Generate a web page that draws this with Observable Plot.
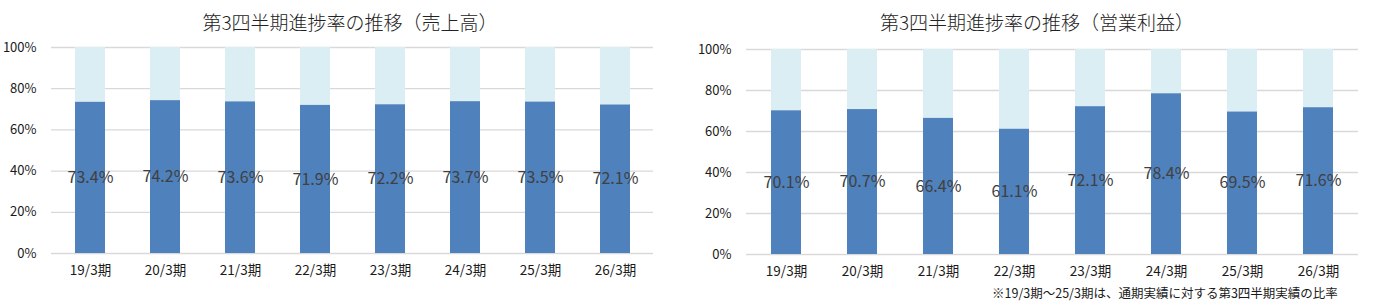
<!DOCTYPE html>
<html><head><meta charset="utf-8">
<script src="https://cdn.jsdelivr.net/npm/d3@7"></script>
<script src="https://cdn.jsdelivr.net/npm/@observablehq/plot@0.6"></script>
<style>
body{margin:0;background:#fff;}
#wrap{position:relative;width:1374px;height:307px;overflow:hidden;font-family:"Noto Sans CJK JP",sans-serif;}
.panel{position:absolute;top:0;}
.title{position:absolute;top:11px;font-size:19px;line-height:21px;font-weight:300;color:#222;white-space:nowrap;transform:translateX(-50%);}
.note{position:absolute;left:992px;top:286px;font-size:12.5px;line-height:14px;color:#1a1a1a;white-space:nowrap;}
</style></head>
<body><div id="wrap"></div>
<script>
const periods = ["19/3期","20/3期","21/3期","22/3期","23/3期","24/3期","25/3期","26/3期"];
const salesRate = [73.4, 74.2, 73.6, 71.9, 72.2, 73.7, 73.5, 72.1];
const profitRate = [70.1, 70.7, 66.4, 61.1, 72.1, 78.4, 69.5, 71.6];
const yTicks = [0, 0.2, 0.4, 0.6, 0.8, 1.0];
const titles = ["第3四半期進捗率の推移（売上高）", "第3四半期進捗率の推移（営業利益）"];
const note = "※19/3期～25/3期は、通期実績に対する第3四半期実績の比率";

const dark = "#4F81BD", light = "#DBEEF4", grid = "#d9d9d9";

function chart(values, opts) {
  const data = periods.map((p, i) => ({p, v: values[i] / 100, label: values[i].toFixed(1) + "%"}));
  return Plot.plot({
    width: opts.width, height: 290,
    marginLeft: opts.ml, marginRight: opts.mr, marginTop: opts.mt, marginBottom: opts.mb,
    style: {fontFamily: '"Noto Sans CJK JP", sans-serif', background: "transparent"},
    x: {domain: periods, paddingInner: 0.6, paddingOuter: 0.3, label: null},
    y: {domain: [0, 1], label: null},
    marks: [
      Plot.gridY(yTicks, {stroke: grid, strokeOpacity: 1, strokeWidth: 1.3}),
      Plot.barY(data, {x: "p", y1: "v", y2: 1, fill: light}),
      Plot.barY(data, {x: "p", y1: 0, y2: "v", fill: dark}),
      Plot.text(data, {x: "p", y: d => d.v / 2, text: "label", fill: "#404040", fontSize: 16}),
      Plot.axisY(yTicks, {tickSize: 0, tickPadding: 15, tickFormat: d => Math.round(d * 100) + "%", fontSize: 13, fill: "#1a1a1a"}),
      Plot.axisX({tickSize: 0, tickPadding: 12, fontSize: 13.5, fill: "#1a1a1a"})
    ]
  });
}

const wrap = document.getElementById("wrap");
const left = document.createElement("div"); left.className = "panel"; left.style.left = "0px";
left.appendChild(chart(salesRate, {width: 680, ml: 51, mr: 27, mt: 47, mb: 37}));
wrap.appendChild(left);
const right = document.createElement("div"); right.className = "panel"; right.style.left = "687px";
right.appendChild(chart(profitRate, {width: 687, ml: 59, mr: 16, mt: 49, mb: 36}));
wrap.appendChild(right);

const t1 = document.createElement("div"); t1.className = "title"; t1.style.left = "350px"; t1.textContent = titles[0]; wrap.appendChild(t1);
const t2 = document.createElement("div"); t2.className = "title"; t2.style.left = "1037px"; t2.textContent = titles[1]; wrap.appendChild(t2);
const n = document.createElement("div"); n.className = "note"; n.textContent = note; wrap.appendChild(n);
</script></body></html>
